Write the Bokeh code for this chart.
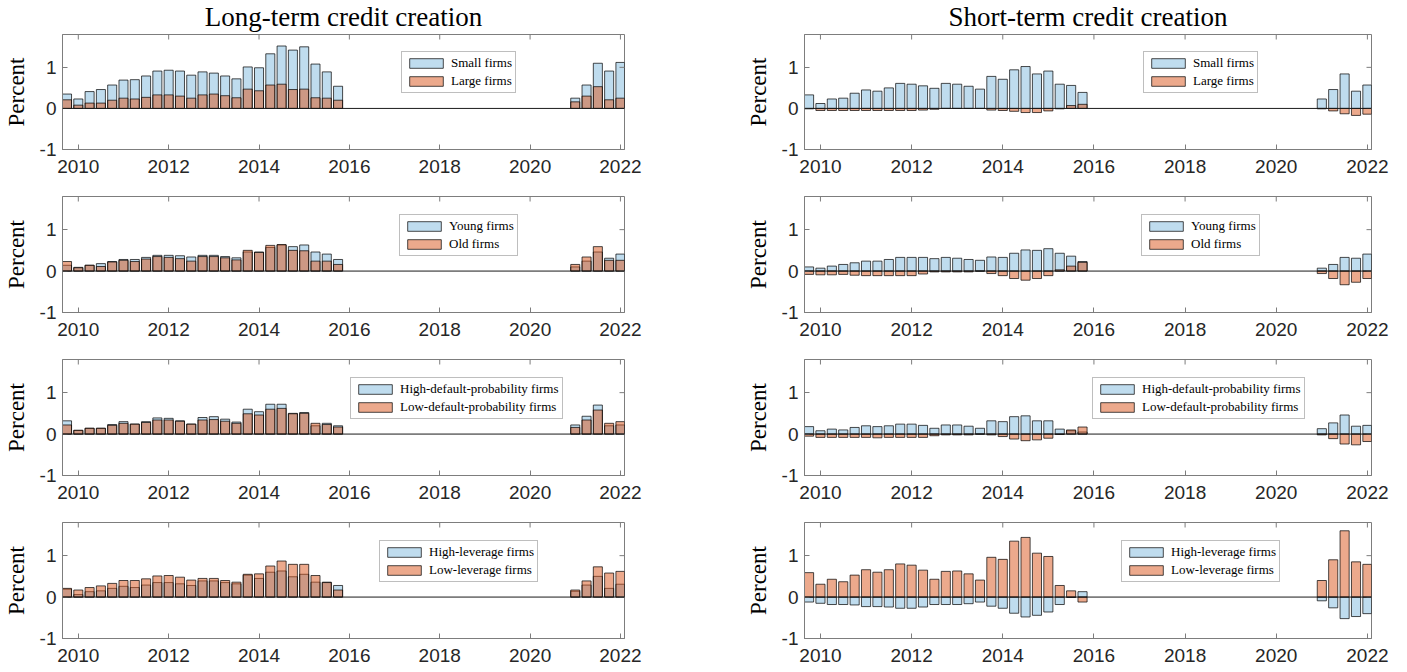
import math

from bokeh.plotting import figure
from bokeh.models import (Range1d, FixedTicker, Legend, LegendItem,
                          Span, ColumnDataSource)
from bokeh.layouts import column, row
from bokeh.embed import file_html
from bokeh.resources import INLINE

# Quarterly observations (two windows: 2009Q4-2015Q4 and 2021Q1-2022Q1)
quarters = ["2009Q4",
            "2010Q1", "2010Q2", "2010Q3", "2010Q4",
            "2011Q1", "2011Q2", "2011Q3", "2011Q4",
            "2012Q1", "2012Q2", "2012Q3", "2012Q4",
            "2013Q1", "2013Q2", "2013Q3", "2013Q4",
            "2014Q1", "2014Q2", "2014Q3", "2014Q4",
            "2015Q1", "2015Q2", "2015Q3", "2015Q4",
            "2021Q1", "2021Q2", "2021Q3", "2021Q4", "2022Q1"]

year_ticks = [2010, 2012, 2014, 2016, 2018, 2020, 2022]
pct_ticks = [-1, 0, 1]
pct_tick_labels = {-1: "-1", 0: "0", 1: "1"}

titles = ["Long-term credit creation", "Short-term credit creation"]

# Long-term credit creation (percent)
lt_small = [0.35, 0.23, 0.41, 0.46, 0.57, 0.69, 0.70, 0.79, 0.91, 0.93, 0.91, 0.81, 0.89,
            0.86, 0.79, 0.72, 1.01, 0.99, 1.33, 1.52, 1.42, 1.50, 1.08, 0.89, 0.54,
            0.25, 0.57, 1.10, 0.91, 1.12]
lt_large = [0.21, 0.08, 0.13, 0.13, 0.20, 0.25, 0.23, 0.27, 0.33, 0.33, 0.30, 0.25, 0.33,
            0.35, 0.31, 0.26, 0.47, 0.43, 0.57, 0.59, 0.46, 0.47, 0.26, 0.25, 0.20,
            0.16, 0.30, 0.53, 0.21, 0.25]
lt_young = [0.14, 0.09, 0.14, 0.18, 0.23, 0.28, 0.28, 0.33, 0.38, 0.38, 0.37, 0.34, 0.38,
            0.38, 0.35, 0.32, 0.46, 0.46, 0.57, 0.63, 0.59, 0.63, 0.46, 0.41, 0.28,
            0.10, 0.24, 0.46, 0.31, 0.41]
lt_old = [0.23, 0.08, 0.14, 0.11, 0.22, 0.26, 0.23, 0.29, 0.35, 0.33, 0.30, 0.24, 0.35,
          0.35, 0.32, 0.27, 0.50, 0.45, 0.62, 0.64, 0.50, 0.49, 0.24, 0.24, 0.16,
          0.16, 0.34, 0.59, 0.26, 0.26]
lt_high_dp = [0.32, 0.09, 0.14, 0.14, 0.23, 0.30, 0.24, 0.30, 0.39, 0.38, 0.32, 0.24, 0.40,
              0.42, 0.36, 0.29, 0.60, 0.54, 0.72, 0.72, 0.50, 0.52, 0.20, 0.26, 0.20,
              0.22, 0.43, 0.70, 0.20, 0.22]
lt_low_dp = [0.22, 0.09, 0.14, 0.14, 0.21, 0.26, 0.24, 0.28, 0.34, 0.34, 0.31, 0.24, 0.34,
             0.35, 0.31, 0.26, 0.49, 0.46, 0.60, 0.62, 0.49, 0.50, 0.26, 0.23, 0.17,
             0.16, 0.34, 0.58, 0.26, 0.30]
lt_high_lev = [0.19, 0.06, 0.13, 0.15, 0.21, 0.26, 0.23, 0.29, 0.35, 0.35, 0.32, 0.28, 0.39,
               0.39, 0.35, 0.32, 0.53, 0.45, 0.60, 0.63, 0.49, 0.55, 0.36, 0.36, 0.28,
               0.14, 0.29, 0.50, 0.21, 0.31]
lt_low_lev = [0.21, 0.17, 0.23, 0.27, 0.33, 0.40, 0.40, 0.44, 0.51, 0.52, 0.48, 0.41, 0.45,
              0.45, 0.40, 0.36, 0.55, 0.56, 0.75, 0.87, 0.79, 0.79, 0.52, 0.35, 0.17,
              0.17, 0.39, 0.73, 0.58, 0.62]

# Short-term credit creation (percent)
st_small = [0.33, 0.12, 0.23, 0.25, 0.37, 0.45, 0.42, 0.50, 0.61, 0.59, 0.55, 0.49, 0.61,
            0.59, 0.54, 0.47, 0.78, 0.71, 0.94, 1.02, 0.84, 0.91, 0.59, 0.56, 0.39,
            0.23, 0.46, 0.84, 0.42, 0.57]
st_large = [-0.01, -0.05, -0.05, -0.05, -0.05, -0.05, -0.05, -0.05, -0.05, -0.05, -0.04, -0.02, 0.0,
            0.0, 0.0, 0.0, -0.04, -0.05, -0.07, -0.10, -0.10, -0.06, -0.01, 0.07, 0.10,
            -0.01, -0.06, -0.13, -0.17, -0.14]
st_young = [0.10, 0.07, 0.12, 0.16, 0.20, 0.24, 0.24, 0.28, 0.33, 0.33, 0.33, 0.30, 0.33,
            0.31, 0.28, 0.26, 0.34, 0.33, 0.43, 0.51, 0.50, 0.54, 0.43, 0.36, 0.23,
            0.07, 0.16, 0.33, 0.31, 0.41]
st_old = [-0.08, -0.09, -0.09, -0.08, -0.10, -0.11, -0.11, -0.11, -0.11, -0.11, -0.07, -0.02, -0.02,
          -0.02, -0.02, 0.0, -0.06, -0.11, -0.18, -0.22, -0.18, -0.11, 0.03, 0.12, 0.21,
          -0.06, -0.18, -0.33, -0.27, -0.18]
st_high_dp = [0.18, 0.08, 0.12, 0.10, 0.16, 0.20, 0.18, 0.20, 0.24, 0.24, 0.21, 0.14, 0.22,
              0.22, 0.19, 0.14, 0.32, 0.30, 0.42, 0.44, 0.32, 0.32, 0.12, 0.08, 0.05,
              0.13, 0.27, 0.46, 0.19, 0.21]
st_low_dp = [-0.05, -0.08, -0.08, -0.08, -0.08, -0.08, -0.09, -0.08, -0.08, -0.08, -0.08, -0.04, -0.02,
             -0.02, -0.02, 0.0, -0.02, -0.06, -0.12, -0.16, -0.14, -0.10, -0.01, 0.10, 0.17,
             -0.02, -0.11, -0.24, -0.26, -0.18]
st_high_lev = [-0.12, -0.15, -0.18, -0.18, -0.19, -0.23, -0.23, -0.24, -0.27, -0.27, -0.24, -0.18, -0.18,
               -0.18, -0.16, -0.12, -0.22, -0.27, -0.39, -0.48, -0.44, -0.36, -0.18, -0.01, 0.13,
               -0.09, -0.26, -0.52, -0.47, -0.40]
st_low_lev = [0.59, 0.31, 0.43, 0.37, 0.53, 0.66, 0.60, 0.66, 0.80, 0.77, 0.65, 0.43, 0.62,
              0.63, 0.56, 0.41, 0.96, 0.91, 1.35, 1.44, 1.06, 0.98, 0.28, 0.15, -0.12,
              0.40, 0.90, 1.60, 0.85, 0.79]

group_labels = [("Small firms", "Large firms"),
                ("Young firms", "Old firms"),
                ("High-default-probability firms", "Low-default-probability firms"),
                ("High-leverage firms", "Low-leverage firms")]

long_term = [(lt_small, lt_large), (lt_young, lt_old),
             (lt_high_dp, lt_low_dp), (lt_high_lev, lt_low_lev)]
short_term = [(st_small, st_large), (st_young, st_old),
              (st_high_dp, st_low_dp), (st_high_lev, st_low_lev)]


def quarter_position(q):
    """Decimal year at the start of a quarter, e.g. 2010Q1 -> 2010.0."""
    return int(q[:4]) + (int(q[5]) - 1) / 4.0


x_pos = [quarter_position(q) for q in quarters]

X_LIMITS = (2009.65, 2022.09)
Y_LIMITS = (-1.0, 1.8)

BLUE = "#0072BD"
ORANGE = "#D95319"
AXIS_GRAY = "#7d7d7d"
TEXT_DARK = "#262626"
SERIF = "Liberation Serif"
SANS = "Liberation Sans"

# figure geometry per row: (height, top border, bottom border, legend x offset)
row_geom = [(182, 33, 33, 339), (163, 14, 33, 337), (163, 14, 33, 288), (164, 14, 34, 317)]


def make_panel(blue_vals, orange_vals, names, col, r):
    height, b_top, b_bottom, leg_x = row_geom[r]
    left_col = col == 0
    p = figure(width=700 if left_col else 707, height=height,
               x_range=Range1d(*X_LIMITS), y_range=Range1d(*Y_LIMITS),
               output_backend="svg", toolbar_location=None,
               min_border_left=57 if left_col else 104,
               min_border_right=76 if left_col else 36,
               min_border_top=b_top, min_border_bottom=b_bottom,
               title=titles[col] if r == 0 else None)
    p.xgrid.visible = False
    p.ygrid.visible = False
    p.background_fill_color = "white"
    p.border_fill_color = "white"
    p.outline_line_color = AXIS_GRAY
    p.outline_line_width = 1

    if r == 0:
        p.title.text_font = SERIF
        p.title.text_font_size = "27px"
        p.title.text_font_style = "normal"
        p.title.text_color = "black"
        p.title.align = "center"
        p.title.vertical_align = "top"
        p.title.standoff = 2

    src = ColumnDataSource(dict(x=x_pos, blue=blue_vals, orange=orange_vals))
    rb = p.vbar(x="x", top="blue", bottom=0, width=0.2, source=src,
                fill_color=BLUE, fill_alpha=0.25,
                line_color="black", line_alpha=0.7, line_width=1)
    ro = p.vbar(x="x", top="orange", bottom=0, width=0.2, source=src,
                fill_color=ORANGE, fill_alpha=0.5,
                line_color="black", line_alpha=0.7, line_width=1)

    p.add_layout(Span(location=0, dimension="width", line_color="#1a1a1a", line_width=1))

    # mirrored inward tick marks on the top and right edges of the box
    # (half of each dash is clipped away by the frame)
    p.scatter(x=year_ticks, y=[Y_LIMITS[1]] * len(year_ticks), marker="dash",
              size=10, angle=math.pi / 2, line_color=AXIS_GRAY, line_width=1)
    p.scatter(x=[X_LIMITS[1]] * len(pct_ticks), y=pct_ticks, marker="dash",
              size=10, line_color=AXIS_GRAY, line_width=1)

    xa = p.xaxis[0]
    xa.ticker = FixedTicker(ticks=year_ticks)
    xa.major_label_standoff = 10
    ya = p.yaxis[0]
    ya.ticker = FixedTicker(ticks=pct_ticks)
    ya.major_label_overrides = pct_tick_labels
    ya.major_label_standoff = 6
    ya.axis_label = "Percent"
    ya.axis_label_text_font = SERIF
    ya.axis_label_text_font_size = "23px"
    ya.axis_label_text_font_style = "normal"
    ya.axis_label_text_color = "black"
    ya.axis_label_standoff = 8

    for ax in (xa, ya):
        ax.major_tick_in = 5
        ax.major_tick_out = 0
        ax.minor_tick_in = 0
        ax.minor_tick_out = 0
        ax.axis_line_color = AXIS_GRAY
        ax.major_tick_line_color = AXIS_GRAY
        ax.major_label_text_font = SANS
        ax.major_label_text_font_size = "19px"
        ax.major_label_text_color = TEXT_DARK

    legend = Legend(items=[LegendItem(label=names[0], renderers=[rb]),
                           LegendItem(label=names[1], renderers=[ro])],
                    location=(leg_x, 56))
    legend.label_text_font = SERIF
    legend.label_text_font_size = "13px"
    legend.label_text_color = "black"
    legend.glyph_width = 42
    legend.glyph_height = 12
    legend.label_height = 12
    legend.padding = 3
    legend.spacing = 2
    legend.label_standoff = 4
    legend.margin = 0
    legend.border_line_color = AXIS_GRAY
    legend.border_line_width = 1
    legend.background_fill_color = "white"
    legend.background_fill_alpha = 1.0
    p.add_layout(legend)
    return p


rows = []
for r in range(4):
    left = make_panel(long_term[r][0], long_term[r][1], group_labels[r], 0, r)
    right = make_panel(short_term[r][0], short_term[r][1], group_labels[r], 1, r)
    rows.append(row(left, right))

layout = column(*rows)
open("out.html", "w").write(file_html(layout, INLINE))
